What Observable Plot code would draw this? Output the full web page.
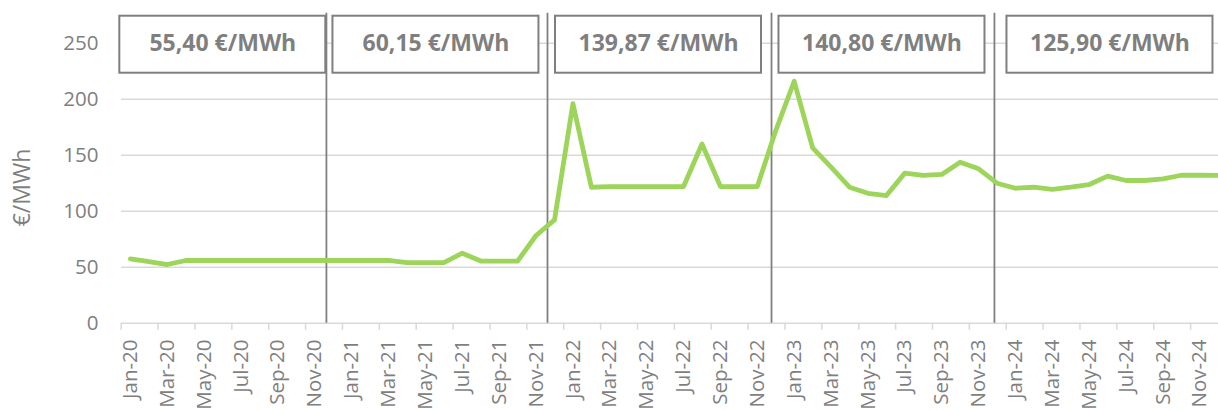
<!DOCTYPE html>
<html><head><meta charset="utf-8">
<script src="https://cdn.jsdelivr.net/npm/d3@7"></script>
<script src="https://cdn.jsdelivr.net/npm/@observablehq/plot@0.6"></script>
<style>body{margin:0;background:#fff;font-family:"Open Sans",sans-serif}</style>
</head><body><div id="chart"></div>
<script>
const monthNames = ["Jan","Feb","Mar","Apr","May","Jun","Jul","Aug","Sep","Oct","Nov","Dec"];
const years = ["20","21","22","23","24"];
const prices = [
  57.5, 55, 52.4, 56, 56, 56, 56, 56, 56, 56, 56, 56,
  56, 56, 56, 54, 54, 54, 62.5, 55.5, 55.5, 55.5, 78.3, 92.3,
  196, 121.4, 122, 122, 122, 122, 122, 160, 122, 122, 122, 172,
  216, 156.6, 139.3, 121.4, 116, 114, 134, 132, 132.8, 143.8, 137.8, 125,
  120.5, 121.4, 119.4, 121.4, 123.8, 131.3, 127.4, 127.4, 128.9, 132.1, 132.1, 132
];
const periodLabels = ["55,40 €/MWh", "60,15 €/MWh", "139,87 €/MWh", "140,80 €/MWh", "125,90 €/MWh"];
const periodBreaks = [11.13, 23.12, 35.27, 47.36];
const yTicks = [0, 50, 100, 150, 200, 250];
const yTitle = "€/MWh";

const months = years.flatMap(y => monthNames.map(m => `${m}-${y}`));
const data = prices.map((v, i) => ({i, label: months[i], v}));
const edges = [0, ...periodBreaks, months.length];
const periods = periodLabels.map((label, k) => ({label, mid: (edges[k] + edges[k + 1]) / 2}));
const boundaryTicks = months.map((m, i) => i).filter(i => i % 2 === 0);
const labelTicks = boundaryTicks.map(i => i + 0.5);
const yTop = d3.max(yTicks);
const gray = "#7f7f7f";

const chart = Plot.plot({
  width: 1218, height: 410,
  marginLeft: 121, marginRight: 0, marginTop: 43, marginBottom: 87,
  style: {fontFamily: "'Open Sans', sans-serif", background: "white"},
  x: {type: "linear", domain: [0, months.length], range: [120.7, 1227]},
  y: {domain: [0, yTop], range: [322.7, 42.7]},
  marks: [
    Plot.ruleY(yTicks, {stroke: "#d9d9d9", strokeWidth: 1.5}),
    Plot.ruleX(boundaryTicks, {y1: () => 0, y2: () => 0, insetBottom: -7, stroke: "#d9d9d9", strokeWidth: 1.5}),
    Plot.axisY(yTicks, {tickSize: 0, tickPadding: 23, fontSize: 20.5, fill: gray, label: null}),
    Plot.axisX(labelTicks, {tickSize: 0, tickPadding: 16, tickRotate: -90, fontSize: 20.5, fill: gray, tickFormat: t => months[Math.floor(t)], label: null}),
    Plot.text([yTitle], {text: d => d, frameAnchor: "left", textAnchor: "middle", dx: -99, dy: 4, rotate: -90, fontSize: 23, fill: gray}),
    Plot.ruleX(periodBreaks, {y1: () => yTop, y2: () => 0, insetTop: -30, stroke: "#808080", strokeWidth: 1.8}),
    Plot.line(data, {x: d => d.i + 0.5, y: "v", stroke: "#9dd45a", strokeWidth: 4.8}),
    Plot.rect(periods, {x1: "mid", x2: "mid", y1: () => yTop, y2: () => yTop, insetLeft: -104, insetRight: -102, insetTop: -27, insetBottom: -30, fill: "white", stroke: gray, strokeWidth: 2}),
    Plot.text(periods, {x: "mid", y: () => yTop, text: "label", dx: -1, fontSize: 23, fontWeight: "bold", fill: gray})
  ]
});
document.getElementById("chart").appendChild(chart);
</script>
</body></html>
